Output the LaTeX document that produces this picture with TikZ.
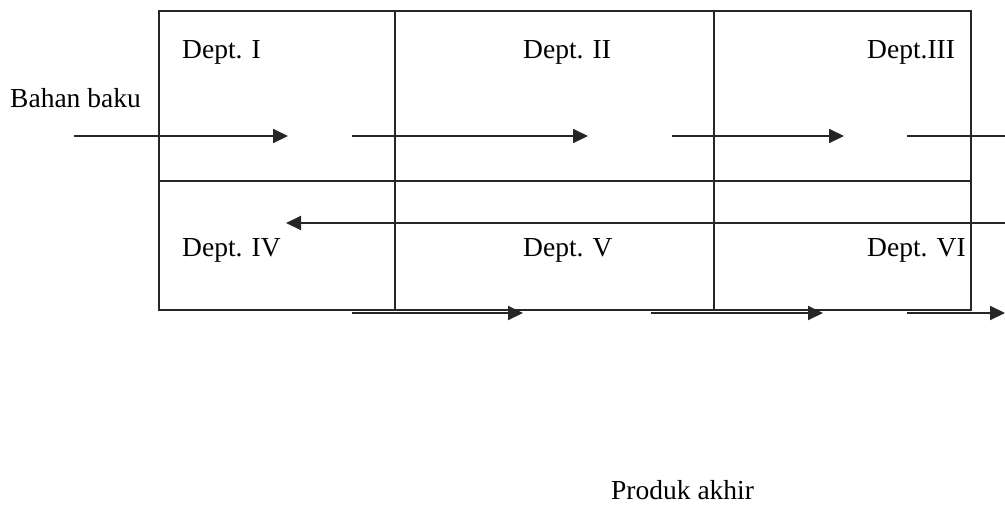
\documentclass[tikz,border=0pt]{standalone}
\usepackage{fontspec}
\setmainfont{Liberation Serif}
\usetikzlibrary{arrows.meta}
\begin{document}
\begin{tikzpicture}[x=1pt,y=-1pt,
  line/.style={draw=black!85, line width=2pt},
  flow/.style={line, -{Triangle[length=15pt,width=14pt]}},
  lbl/.style={anchor=base west, inner sep=0pt, font=\fontsize{27.5}{32}\selectfont}]
\useasboundingbox (0,0) rectangle (1005,504);
% grid of departments
\draw[line] (159,11) rectangle (971,310);
\draw[line] (159,181) -- (971,181);
\draw[line] (395,11) -- (395,310);
\draw[line] (714,11) -- (714,310);
% labels
\node[lbl] (d1) at (182,58) {Dept. I};
\node[lbl] (d2) at (523,58) {Dept. II};
\node[lbl] (d3) at (867,58) {Dept.III};
\node[lbl] (d4) at (182,256) {Dept. IV};
\node[lbl] (d5) at (523,256) {Dept. V};
\node[lbl] (d6) at (867,256) {Dept. VI};
\node[lbl] (bb) at (10,107) {Bahan baku};
\node[lbl] (pa) at (611,499) {Produk akhir};
% coordinates
\coordinate (a1s) at (74,136);  \coordinate (a1e) at (288,136);
\coordinate (a2s) at (352,136); \coordinate (a2e) at (588,136);
\coordinate (a3s) at (672,136); \coordinate (a3e) at (844,136);
\coordinate (a4s) at (907,136); \coordinate (a4e) at (1005,136);
\coordinate (r1s) at (1005,223); \coordinate (r1e) at (286,223);
\coordinate (b1s) at (352,313); \coordinate (b1e) at (523,313);
\coordinate (b2s) at (651,313); \coordinate (b2e) at (823,313);
\coordinate (b3s) at (907,313); \coordinate (b3e) at (1005,313);
% arrows
\draw[flow] (a1s) -- (a1e);
\draw[flow] (a2s) -- (a2e);
\draw[flow] (a3s) -- (a3e);
\draw[line] (a4s) -- (a4e);
\draw[flow] (r1s) -- (r1e);
\draw[flow] (b1s) -- (b1e);
\draw[flow] (b2s) -- (b2e);
\draw[flow] (b3s) -- (b3e);
\end{tikzpicture}
\end{document}
